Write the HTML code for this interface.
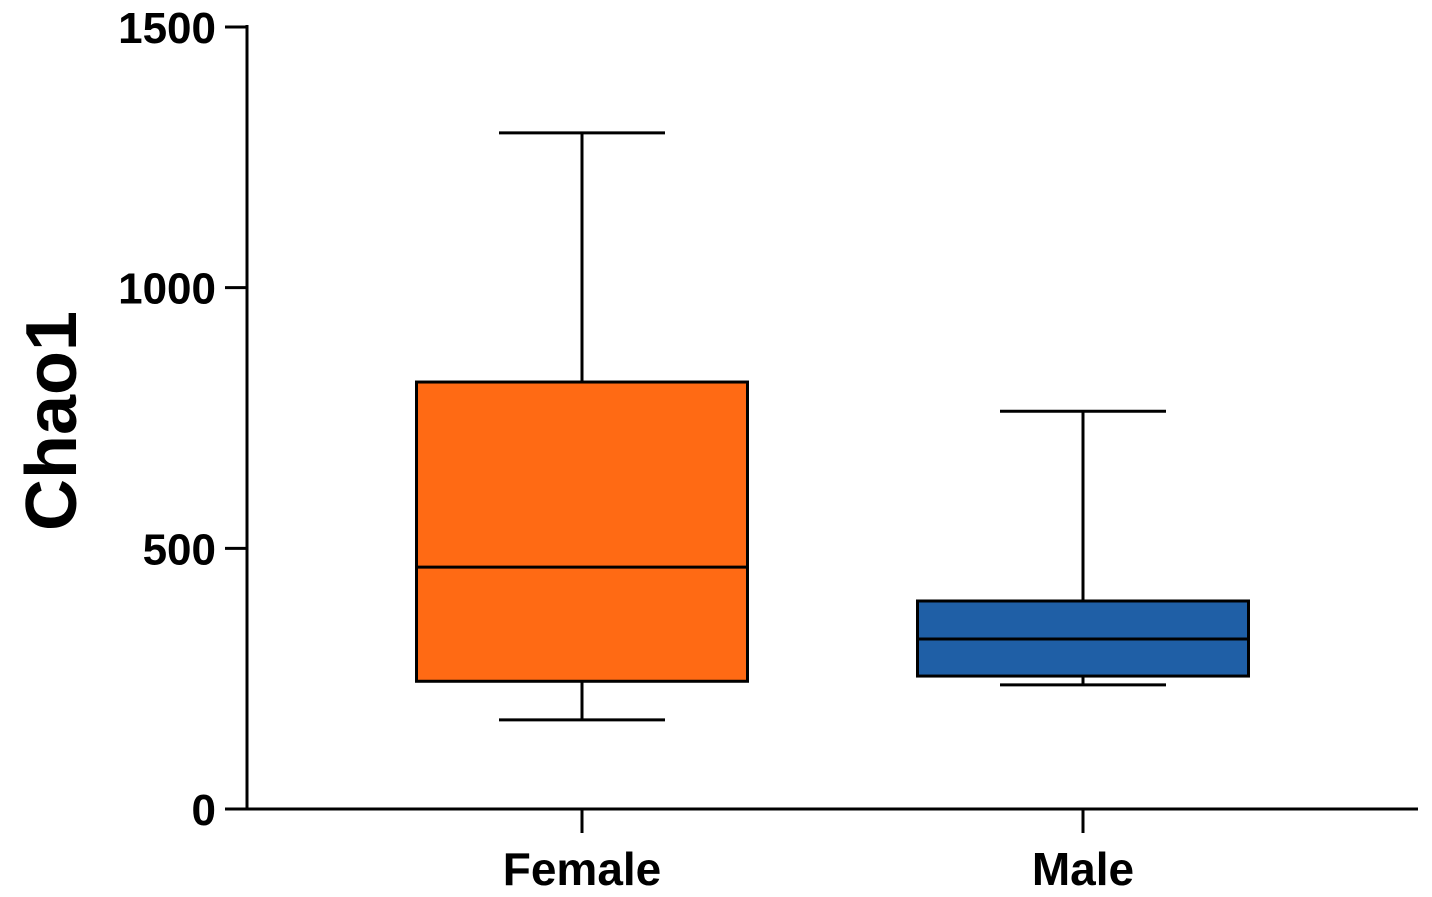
<!DOCTYPE html>
<html><head><meta charset="utf-8"><style>
body{margin:0;background:#fff}
svg{display:block}
text{font-family:"Liberation Sans",Arial,sans-serif;font-weight:bold;fill:#000}
</style></head><body>
<svg id="chart" width="1432" height="897" xmlns="http://www.w3.org/2000/svg"></svg>
<script>
const categories = ["Female", "Male"];
const mins = [171, 238];
const q1s = [245, 255];
const medians = [464, 326];
const q3s = [819, 399];
const maxs = [1297, 763];
const colors = ["#FF6A14", "#1F5FA6"];
const yTicks = [0, 500, 1000, 1500];

const svg = document.getElementById('chart');
const NS = "http://www.w3.org/2000/svg";
const y0 = 809, y1 = 27, vMax = 1500;
const xLeft = 247, xRight = 1418;
const centers = [582, 1083];
const boxW = 331;
function y(v){ return y0 - (v / vMax) * (y0 - y1); }
function x(i){ return centers[i]; }
function el(tag, attrs){ const e = document.createElementNS(NS, tag); for (const k in attrs) e.setAttribute(k, attrs[k]); svg.appendChild(e); return e; }

let a = el('line', {x1:xLeft, y1:y1-2, x2:xLeft, y2:y0+1, stroke:'#000', 'stroke-width':3});


a = el('line', {x1:xLeft-1, y1:y0, x2:xRight, y2:y0, stroke:'#000', 'stroke-width':3});



yTicks.forEach(t => {
  const tk = el('line', {x1:225, y1:y(t), x2:xLeft, y2:y(t), stroke:'#000', 'stroke-width':3});
  
  
  const tx = el('text', {x:216, y:y(t)+16, 'text-anchor':'end', 'font-size':44});
  tx.textContent = t;
  
  
});

categories.forEach((c, i) => {
  const cx = x(i);
  const tk = el('line', {x1:cx, y1:y0, x2:cx, y2:833, stroke:'#000', 'stroke-width':3});
  
  
  const tx = el('text', {x:cx, y:885, 'text-anchor':'middle', 'font-size':46});
  tx.textContent = c;
  
  

  const w1 = el('line', {x1:cx, y1:y(maxs[i]), x2:cx, y2:y(q3s[i]), stroke:'#000', 'stroke-width':3});
  
  
  const w2 = el('line', {x1:cx, y1:y(q1s[i]), x2:cx, y2:y(mins[i]), stroke:'#000', 'stroke-width':3});
  
  
  const c1 = el('line', {x1:cx-83, y1:y(maxs[i]), x2:cx+83, y2:y(maxs[i]), stroke:'#000', 'stroke-width':3});
  
  
  const c2 = el('line', {x1:cx-83, y1:y(mins[i]), x2:cx+83, y2:y(mins[i]), stroke:'#000', 'stroke-width':3});
  
  
  const b = el('rect', {x:cx-boxW/2, y:y(q3s[i]), width:boxW, height:y(q1s[i])-y(q3s[i]), fill:colors[i], stroke:'#000', 'stroke-width':3});
  
  
  const m = el('line', {x1:cx-boxW/2, y1:y(medians[i]), x2:cx+boxW/2, y2:y(medians[i]), stroke:'#000', 'stroke-width':3});
  
  
});

const yt = el('text', {x:0, y:0, 'text-anchor':'middle', 'font-size':72, transform:'translate(76,421) rotate(-90)'});
yt.textContent = 'Chao1';


</script>
</body></html>
